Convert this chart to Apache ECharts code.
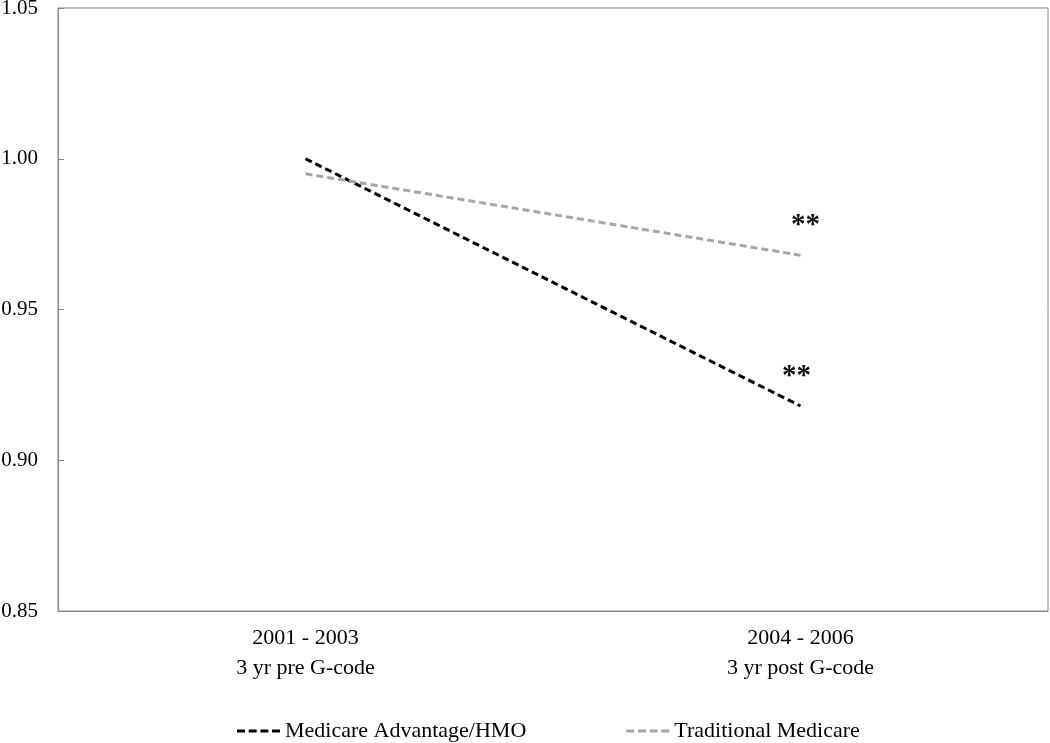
<!DOCTYPE html>
<html>
<head>
<meta charset="utf-8">
<script src="https://cdn.jsdelivr.net/npm/echarts@6/dist/echarts.min.js"></script>
<style>html,body{margin:0;padding:0;background:#fff}#c{width:1050px;height:743px}</style>
</head>
<body>
<div id="c"></div>
<script>
var categories = ['2001 - 2003\n3 yr pre G-code', '2004 - 2006\n3 yr post G-code'];
var maValues = [1.000, 0.918];
var tmValues = [0.995, 0.968];
var seriesNames = ['Medicare Advantage/HMO', 'Traditional Medicare'];
var significance = ['', '**'];

var font = 'Liberation Serif';
var dashIcon = 'path://M0,0h8v3h-8z M11.7,0h8v3h-8z M23.4,0h8v3h-8z M35,0h8v3h-8z';
var chart = echarts.init(document.getElementById('c'));
function sigMark(values, offset) {
  return {
    symbol: 'circle',
    symbolSize: 1,
    silent: true,
    itemStyle: { color: 'rgba(0,0,0,0)' },
    label: {
      show: true,
      position: 'inside',
      offset: offset,
      fontFamily: font,
      fontWeight: 'bold',
      fontSize: 29,
      color: '#111',
      formatter: function (p) { return p.name; }
    },
    data: significance.map(function (s, i) {
      return s ? { name: s, coord: [i, values[i]] } : null;
    }).filter(function (d) { return d; })
  };
}
chart.setOption({
  animation: false,
  textStyle: { fontFamily: font },
  grid: { left: 58, right: 2, top: 8, bottom: 132, show: true, borderColor: '#868686', borderWidth: 1, containLabel: false, outerBoundsMode: 'none' },
  xAxis: {
    type: 'category',
    data: categories,
    boundaryGap: true,
    axisLine: { show: true, lineStyle: { color: '#868686' } },
    axisTick: { show: false },
    axisLabel: { fontFamily: font, fontSize: 22, color: '#000', lineHeight: 30, margin: 12 }
  },
  yAxis: {
    type: 'value',
    min: 0.85, max: 1.05, interval: 0.05,
    splitLine: { show: false },
    axisLine: { show: true, lineStyle: { color: '#868686' } },
    axisTick: { show: true, inside: true, length: 6, lineStyle: { color: '#868686' } },
    axisLabel: { fontFamily: font, fontSize: 21, color: '#000', margin: 20, formatter: function (v) { return v.toFixed(2); } }
  },
  legend: {
    left: 237, top: 720, padding: 0,
    itemWidth: 43, itemHeight: 3, itemGap: 100,
    textStyle: { fontFamily: font, fontSize: 22, color: '#000' },
    data: [
      { name: seriesNames[0], icon: dashIcon },
      { name: seriesNames[1], icon: dashIcon }
    ]
  },
  series: [
    {
      name: seriesNames[0], type: 'line', data: maValues, symbol: 'none',
      lineStyle: { color: '#000', width: 3, type: [7, 4] },
      itemStyle: { color: '#000' },
      markPoint: sigMark(maValues, [-4, -29])
    },
    {
      name: seriesNames[1], type: 'line', data: tmValues, symbol: 'none',
      lineStyle: { color: '#a6a6a6', width: 3, type: [7, 4] },
      itemStyle: { color: '#a6a6a6' },
      markPoint: sigMark(tmValues, [5, -30])
    }
  ]
});
</script>
</body>
</html>
